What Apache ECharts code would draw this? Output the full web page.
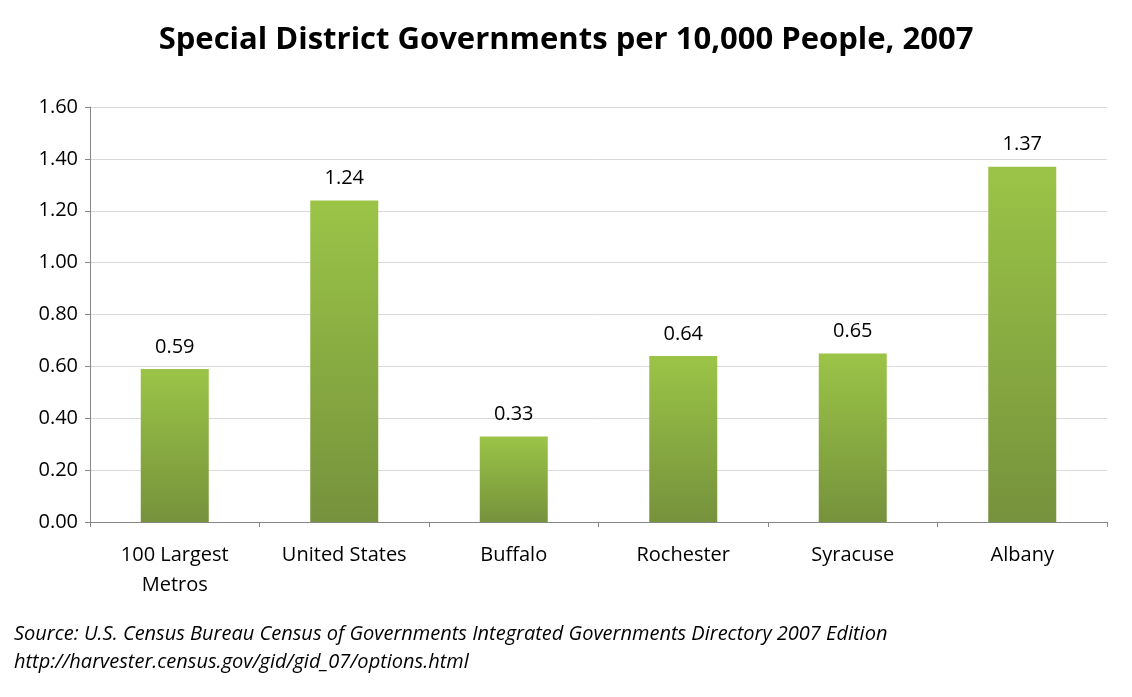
<!DOCTYPE html>
<html>
<head>
<meta charset="utf-8">
<script src="https://cdn.jsdelivr.net/npm/echarts@6/dist/echarts.min.js"></script>
<style>
  html, body { margin: 0; padding: 0; background: #fff; }
  #chart { width: 1132px; height: 697px; }
</style>
</head>
<body>
<div id="chart"></div>
<script>
const categories = ['100 Largest\nMetros', 'United States', 'Buffalo', 'Rochester', 'Syracuse', 'Albany']
const values = [0.59, 1.24, 0.33, 0.64, 0.65, 1.37]
const sourceLines = [
  'Source: U.S. Census Bureau Census of Governments Integrated Governments Directory 2007 Edition',
  'http://harvester.census.gov/gid/gid_07/options.html'
]

const chart = echarts.init(document.getElementById('chart'))
chart.setOption({
  animation: false,
  title: {
    text: 'Special District Governments per 10,000 People, 2007',
    left: 'center',
    top: 20,
    textStyle: { fontFamily: 'Open Sans', fontSize: 31, fontWeight: 'bold', color: '#000' }
  },
  graphic: [{
    type: 'text',
    left: 14,
    top: 620,
    style: {
      text: sourceLines.join('\n'),
      font: 'italic 20px "Open Sans"',
      lineHeight: 28,
      fill: '#000'
    }
  }],
  grid: { left: 90, right: 25, top: 107, bottom: 175 },
  xAxis: {
    type: 'category',
    data: categories,
    axisLine: { lineStyle: { color: '#868686' } },
    axisTick: { show: true, alignWithLabel: false, lineStyle: { color: '#868686' } },
    axisLabel: { color: '#000', fontFamily: 'Open Sans', fontSize: 20, lineHeight: 30, margin: 18 }
  },
  yAxis: {
    type: 'value',
    min: 0,
    max: 1.6,
    interval: 0.2,
    axisLine: { show: true, lineStyle: { color: '#868686' } },
    axisTick: { show: true, lineStyle: { color: '#868686' } },
    splitLine: { lineStyle: { color: '#d9d9d9' } },
    axisLabel: {
      color: '#000', fontFamily: 'Open Sans', fontSize: 20, margin: 12,
      formatter: v => v.toFixed(2)
    }
  },
  series: [{
    type: 'bar',
    data: values,
    barWidth: 68,
    itemStyle: {
      color: new echarts.graphic.LinearGradient(0, 0, 0, 1, [
        { offset: 0, color: '#9bc447' },
        { offset: 1, color: '#76923c' }
      ])
    },
    label: {
      show: true,
      position: 'top',
      distance: 12,
      color: '#000',
      fontFamily: 'Open Sans',
      fontSize: 20,
      formatter: p => p.value.toFixed(2)
    }
  }]
})
</script>
</body>
</html>
